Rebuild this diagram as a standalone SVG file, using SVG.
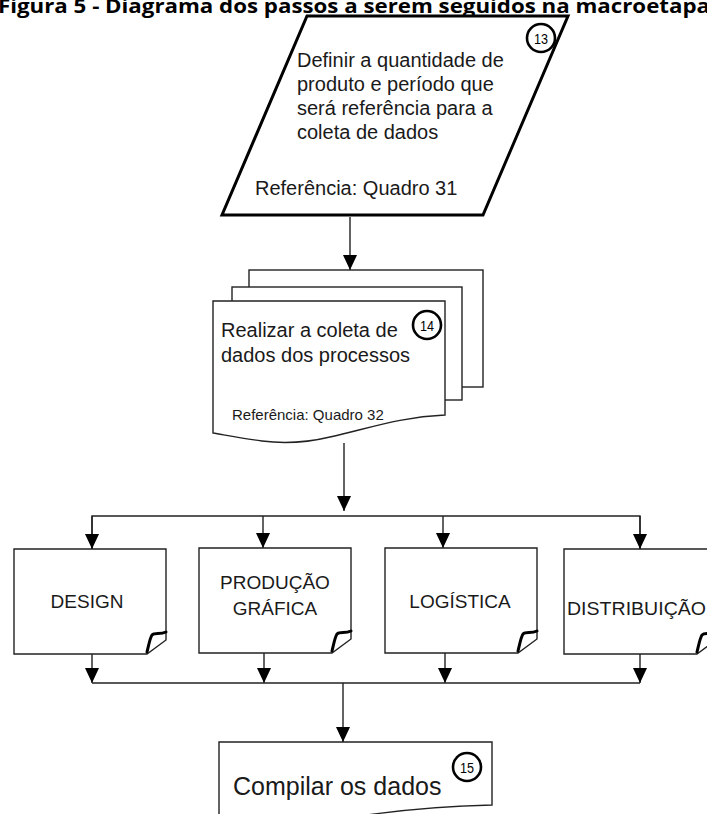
<svg xmlns="http://www.w3.org/2000/svg" width="707" height="814" viewBox="0 0 707 814">
  <style>
    .txt { font-family: "Liberation Sans", Arial, sans-serif; fill: #1a1a1a; }
    .title { font-family: "Open Sans", "Liberation Sans", sans-serif; font-weight: bold; font-size: 19px; fill: #000; }
    .thin { fill: #fff; stroke: #222; stroke-width: 1.4; }
    .thick { fill: #fff; stroke: #000; stroke-width: 3; stroke-linejoin: miter; }
    .badge { fill: #fff; stroke: #000; stroke-width: 2.6; }
    .badge-t { font-family: "Liberation Sans", Arial, sans-serif; font-size: 15px; fill: #000; text-anchor: middle; }
    .curl { fill: none; stroke: #000; stroke-width: 3; stroke-linecap: round; }
    .conn { fill: none; stroke: #222; stroke-width: 1.4; }
    .lbl { font-size: 19px; text-anchor: middle; }
  </style>
  <defs>
    <marker id="arrow" markerUnits="userSpaceOnUse" markerWidth="15" markerHeight="14" refX="15" refY="7" orient="auto">
      <path d="M0,0 L15,7 L0,14 z" fill="#000"/>
    </marker>
  </defs>

  <rect width="707" height="814" fill="#fff"/>

  <text class="title" x="-2" y="13" textLength="712" lengthAdjust="spacingAndGlyphs">Figura 5 - Diagrama dos passos a serem seguidos na macroetapa</text>

  <!-- step 13: input parallelogram -->
  <g id="n13">
    <polygon class="thick" points="307,16 568,16 483,215 222,215"/>
    <circle class="badge" cx="541" cy="38" r="14"/>
    <text class="badge-t" x="541" y="43.5" textLength="14" lengthAdjust="spacingAndGlyphs">13</text>
    <text class="txt" font-size="20" x="297" y="67">Definir a quantidade  de</text>
    <text class="txt" font-size="20" x="297" y="91">produto e período que</text>
    <text class="txt" font-size="20" x="297" y="115">será referência para a</text>
    <text class="txt" font-size="20" x="297" y="139">coleta de dados</text>
    <text class="txt" font-size="20" x="255" y="195">Referência: Quadro  31</text>
  </g>

  <!-- step 14: stacked documents -->
  <g id="n14">
    <rect class="thin" x="249" y="270" width="234" height="117"/>
    <rect class="thin" x="232" y="287" width="230" height="113"/>
    <path class="thin" d="M213,301 L445,301 L445,415 C400,417 370,428 330,437 C305,443 285,444 262,441 C240,438 225,435 213,433 Z"/>
    <circle class="badge" cx="427" cy="325" r="14"/>
    <text class="badge-t" x="427" y="330.5" textLength="14" lengthAdjust="spacingAndGlyphs">14</text>
    <text class="txt" font-size="20" x="221" y="337">Realizar  a coleta de</text>
    <text class="txt" font-size="20" x="221" y="362">dados  dos processos</text>
    <text class="txt" font-size="15" x="232" y="420">Referência: Quadro 32</text>
  </g>

  <!-- four area notes -->
  <g id="design">
    <path class="thin" d="M14,549 L166,549 L166,640 L147,654 L14,654 Z"/>
    <path class="curl" d="M147,652 C149,644 150,638 152,635 C155,632 160,635 166,632"/>
    <text class="txt lbl" x="87" y="608">DESIGN</text>
  </g>
  <g id="producao">
    <path class="thin" d="M199,548 L351,548 L351,639 L332,653 L199,653 Z"/>
    <path class="curl" d="M332,651 C334,643 335,637 337,634 C340,631 345,634 351,631"/>
    <text class="txt lbl" x="275" y="589">PRODUÇÃO</text>
    <text class="txt lbl" x="275" y="615">GRÁFICA</text>
  </g>
  <g id="logistica">
    <path class="thin" d="M385,548 L537,548 L537,639 L518,653 L385,653 Z"/>
    <path class="curl" d="M518,651 C520,643 521,637 523,634 C526,631 531,634 537,631"/>
    <text class="txt lbl" x="460" y="608">LOGÍSTICA</text>
  </g>
  <g id="distribuicao">
    <path class="thin" d="M564,549 L716,549 L716,640 L697,654 L564,654 Z"/>
    <path class="curl" d="M697,652 C699,644 700,638 702,635 C705,632 710,635 716,632"/>
    <text class="txt" font-size="19" x="567" y="615" textLength="139" lengthAdjust="spacingAndGlyphs">DISTRIBUIÇÃO</text>
  </g>

  <!-- step 15: compile document -->
  <g id="n15">
    <path class="thin" d="M219,742 L492,742 L492,805 C450,806 400,810 360,816 C320,822 280,826 219,824 Z" stroke-width="2"/>
    <circle class="badge" cx="467" cy="767" r="14"/>
    <text class="badge-t" x="467" y="772.5" textLength="14" lengthAdjust="spacingAndGlyphs">15</text>
    <text class="txt" font-size="25" x="233" y="795">Compilar os dados</text>
  </g>

  <!-- connectors -->
  <g id="connectors">
    <line class="conn" x1="350" y1="217" x2="350" y2="270" marker-end="url(#arrow)"/>
    <line class="conn" x1="344" y1="443" x2="344" y2="511" marker-end="url(#arrow)"/>
    <polyline class="conn" points="92,549 92,516 640,516 640,549"/>
    <line class="conn" x1="92" y1="516" x2="92" y2="549" marker-end="url(#arrow)"/>
    <line class="conn" x1="263" y1="516" x2="263" y2="548" marker-end="url(#arrow)"/>
    <line class="conn" x1="443" y1="516" x2="443" y2="548" marker-end="url(#arrow)"/>
    <line class="conn" x1="640" y1="516" x2="640" y2="549" marker-end="url(#arrow)"/>
    <line class="conn" x1="92" y1="654" x2="92" y2="683" marker-end="url(#arrow)"/>
    <line class="conn" x1="264" y1="653" x2="264" y2="683" marker-end="url(#arrow)"/>
    <line class="conn" x1="445" y1="653" x2="445" y2="683" marker-end="url(#arrow)"/>
    <line class="conn" x1="640" y1="654" x2="640" y2="683" marker-end="url(#arrow)"/>
    <line class="conn" x1="92" y1="683" x2="640" y2="683"/>
    <line class="conn" x1="343" y1="683" x2="343" y2="742" marker-end="url(#arrow)"/>
  </g>
</svg>
